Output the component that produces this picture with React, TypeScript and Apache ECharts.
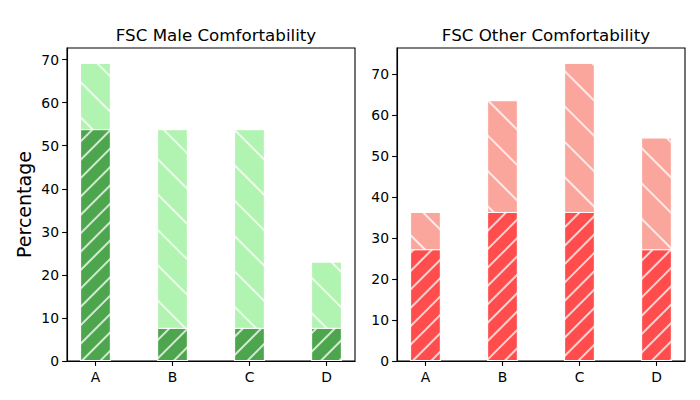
import React, { useEffect, useRef } from "react";
import * as echarts from "echarts";

const categories = ["A", "B", "C", "D"];
const maleBottom = [53.85, 7.69, 7.69, 7.69];
const maleTotal = [69.23, 53.85, 53.85, 23.08];
const otherBottom = [27.27, 36.36, 36.36, 27.27];
const otherTotal = [36.36, 63.64, 72.73, 54.55];
const yTicks = [0, 10, 20, 30, 40, 50, 60, 70];

const FONT = "DejaVu Sans";
const TICK_FS = 13.9;

const hatchBottom = {
  symbol: "rect",
  symbolSize: 1,
  dashArrayX: [1, 0],
  dashArrayY: [1.4, 10.4],
  rotation: -Math.PI / 4,
  color: "rgba(255,255,255,0.75)",
};
const hatchTop = {
  symbol: "rect",
  symbolSize: 1,
  dashArrayX: [1, 0],
  dashArrayY: [1.4, 22.2],
  rotation: Math.PI / 4,
  color: "rgba(255,255,255,0.75)",
};

function xAxisFor(gridIndex: number) {
  const pos = [0, 1, 2, 3];
  return {
    type: "value",
    gridIndex,
    min: -0.37,
    max: 3.37,
    splitLine: { show: false },
    axisLine: { show: true, onZero: false, lineStyle: { color: "#000", width: 1.1 } },
    axisTick: { show: true, customValues: pos, length: 4.9, lineStyle: { color: "#000", width: 1.1 } },
    axisLabel: {
      customValues: pos,
      formatter: (v: number) => categories[Math.round(v)] ?? "",
      color: "#000",
      fontFamily: FONT,
      fontSize: TICK_FS,
      margin: 9,
    },
  };
}

function yAxisFor(gridIndex: number, max: number, name: string) {
  return {
    type: "value",
    gridIndex,
    min: 0,
    max,
    name,
    nameLocation: "middle",
    nameGap: 34,
    nameTextStyle: { fontFamily: FONT, fontSize: 19, color: "#000" },
    splitLine: { show: false },
    axisLine: { show: true, onZero: false, lineStyle: { color: "#000", width: 1.1 } },
    axisTick: { show: true, customValues: yTicks, length: 4.9, lineStyle: { color: "#000", width: 1.1 } },
    axisLabel: { customValues: yTicks, color: "#000", fontFamily: FONT, fontSize: TICK_FS, margin: 8 },
  };
}

function seriesFor(idx: number, bottom: number[], total: number[], cBottom: string, cTop: string) {
  return [
    {
      type: "bar",
      xAxisIndex: idx,
      yAxisIndex: idx,
      barWidth: 30.8,
      barGap: "-100%",
      data: total.map((v, i) => [i, v]),
      itemStyle: { color: cTop, borderColor: "rgba(255,255,255,0.8)", borderWidth: 1, decal: hatchTop },
    },
    {
      type: "bar",
      xAxisIndex: idx,
      yAxisIndex: idx,
      barWidth: 30.8,
      barGap: "-100%",
      data: bottom.map((v, i) => [i, v]),
      itemStyle: { color: cBottom, borderColor: "rgba(255,255,255,0.8)", borderWidth: 1, decal: hatchBottom },
    },
  ];
}

export default function App() {
  const ref = useRef<HTMLDivElement>(null);
  useEffect(() => {
    if (!ref.current) return;
    const chart = echarts.init(ref.current, undefined, { renderer: "svg" });
    const maxL = Math.max(...maleTotal) * 1.05;
    const maxR = Math.max(...otherTotal) * 1.05;
    chart.setOption({
      animation: false,
      backgroundColor: "#fff",
      title: [
        {
          text: "FSC Male Comfortability",
          left: 211,
          top: 21,
          textAlign: "center",
          textStyle: { fontFamily: FONT, fontSize: 16.7, fontWeight: "normal", color: "#000" },
        },
        {
          text: "FSC Other Comfortability",
          left: 541,
          top: 21,
          textAlign: "center",
          textStyle: { fontFamily: FONT, fontSize: 16.7, fontWeight: "normal", color: "#000" },
        },
      ],
      grid: [
        { left: 67, right: 345, top: 48, bottom: 39, show: true, borderColor: "#000", borderWidth: 1.1, backgroundColor: "transparent" },
        { left: 397, right: 15, top: 48, bottom: 39, show: true, borderColor: "#000", borderWidth: 1.1, backgroundColor: "transparent" },
      ],
      xAxis: [xAxisFor(0), xAxisFor(1)],
      yAxis: [yAxisFor(0, maxL, "Percentage"), yAxisFor(1, maxR, "")],
      series: [
        ...seriesFor(0, maleBottom, maleTotal, "#4DA64D", "#B1F3B1"),
        ...seriesFor(1, otherBottom, otherTotal, "#FF4D4D", "#FBA69C"),
      ],
    });
    return () => chart.dispose();
  }, []);
  return <div ref={ref} style={{ position: "fixed", left: 0, top: 0, width: 700, height: 400 }} />;
}
